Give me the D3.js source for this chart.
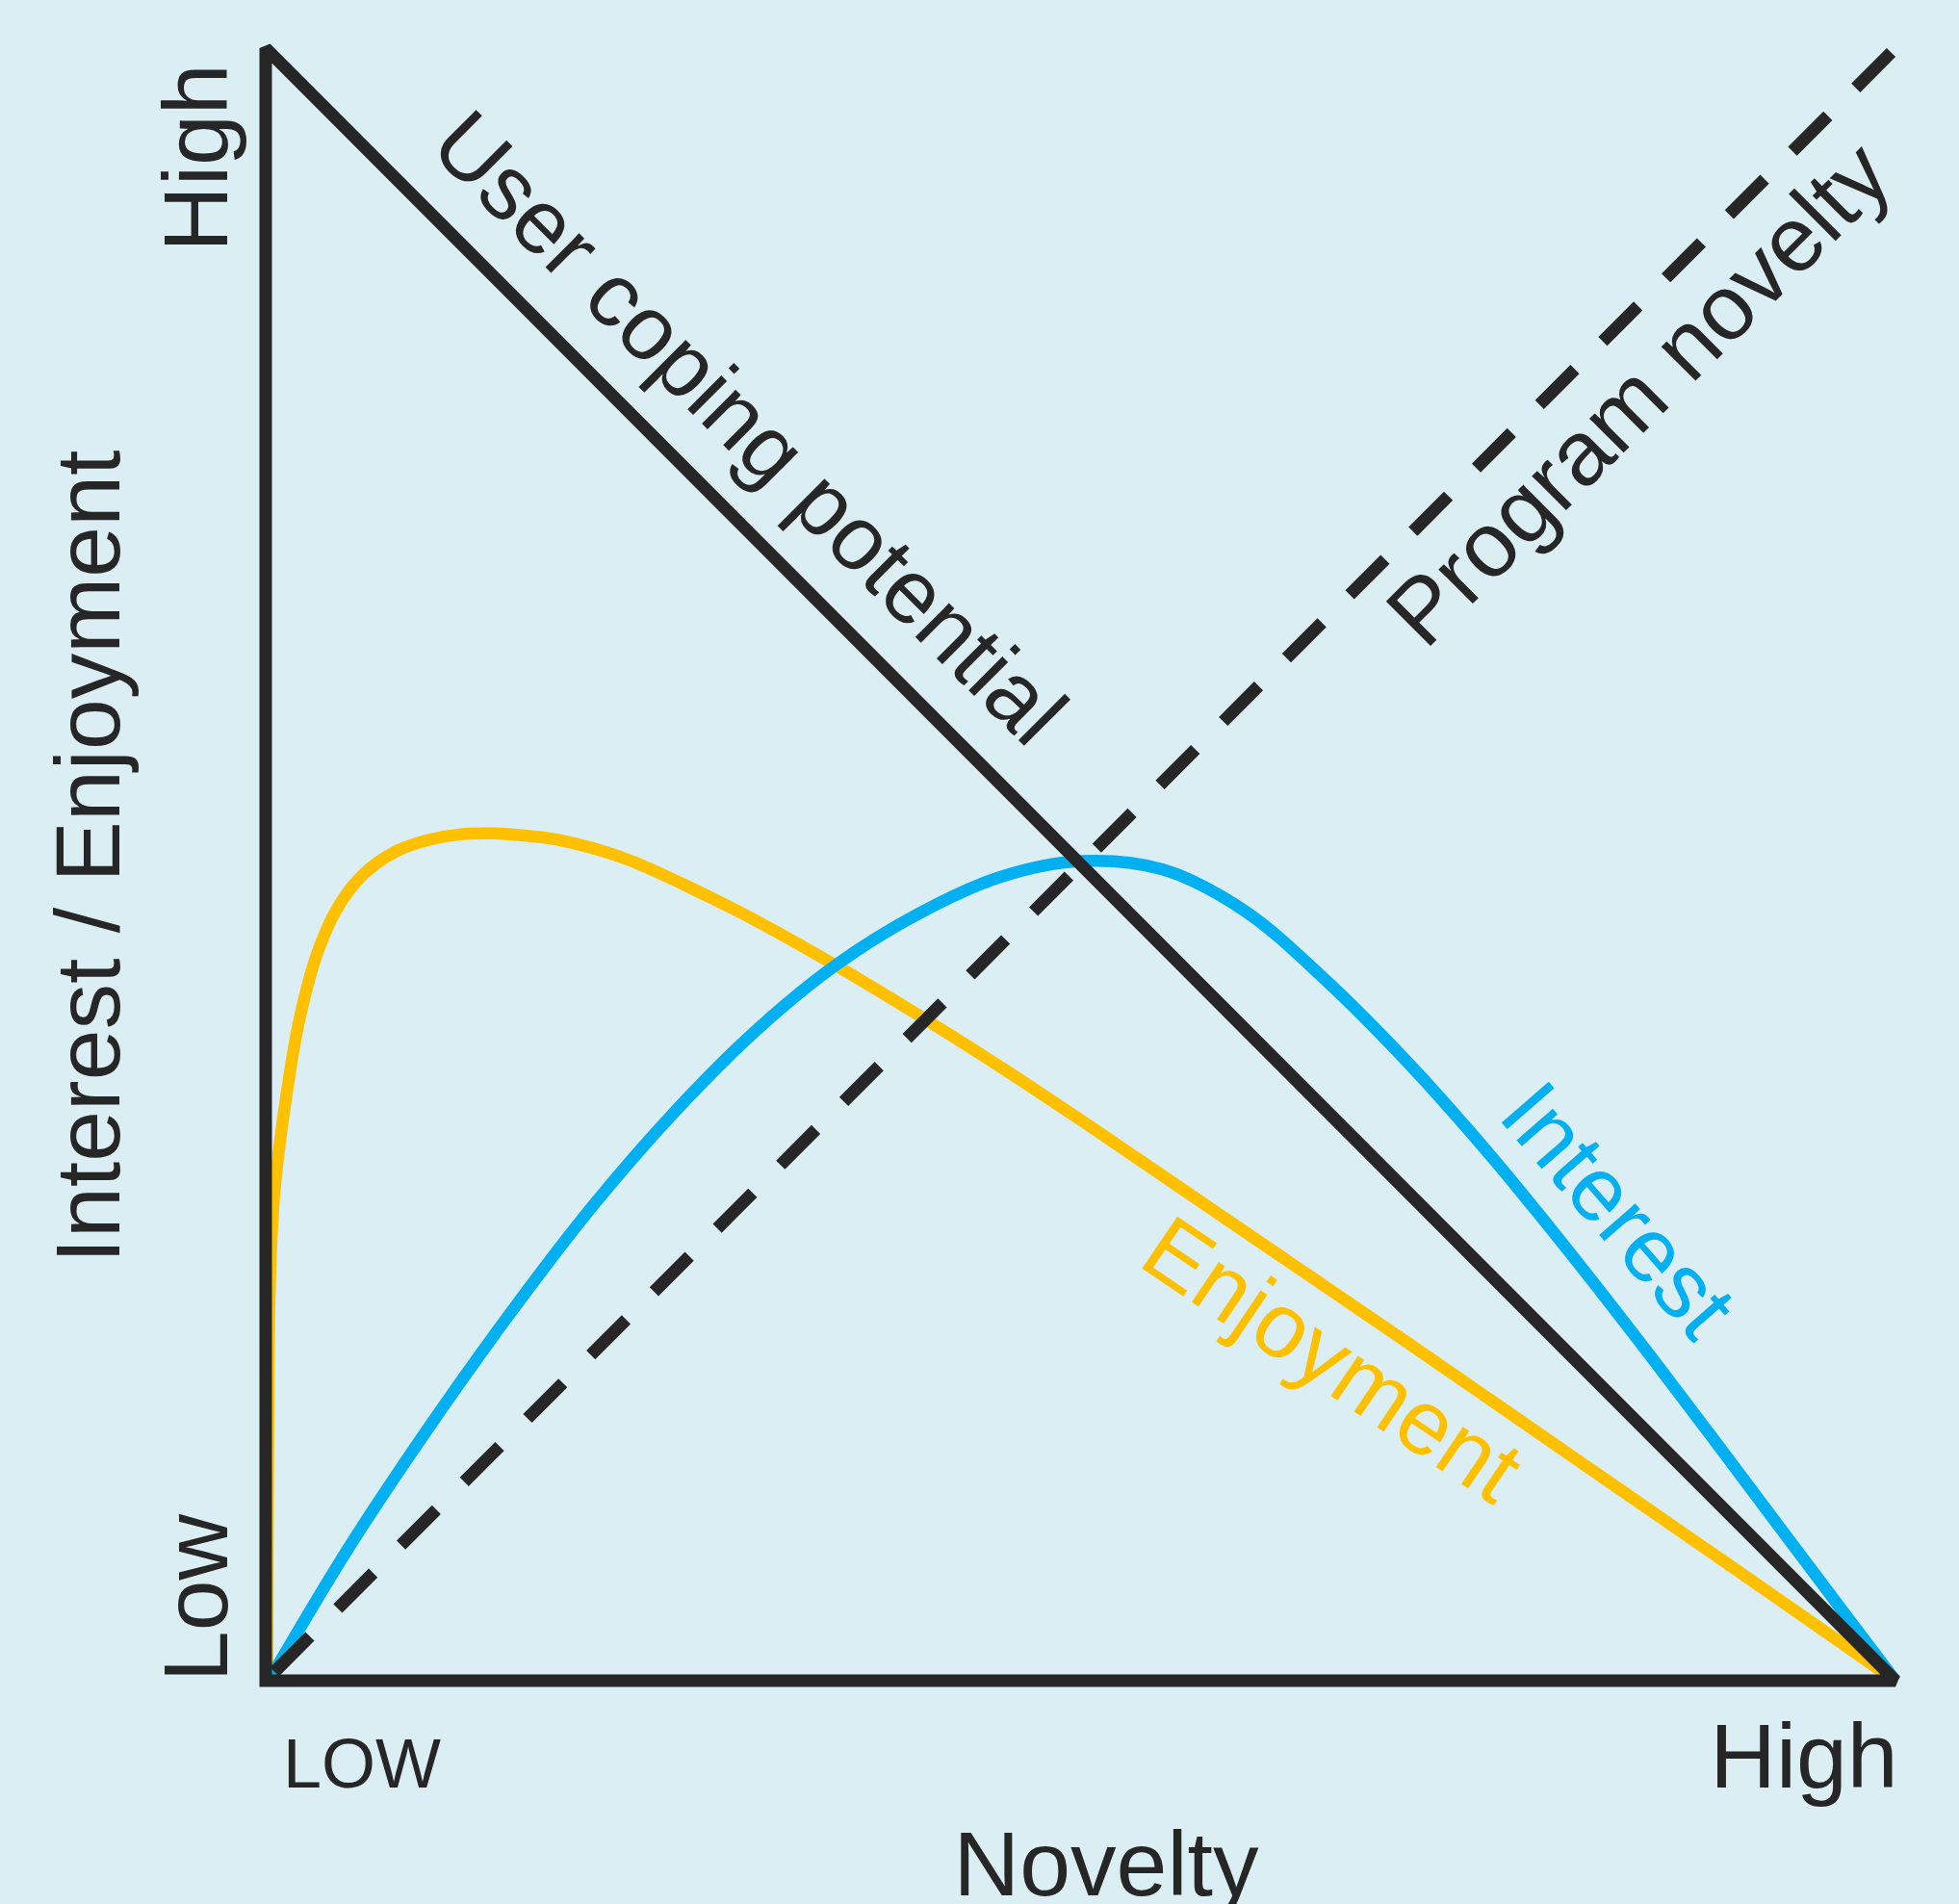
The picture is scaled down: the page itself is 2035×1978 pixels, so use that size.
<!DOCTYPE html>
<html>
<head>
<meta charset="utf-8">
<script src="https://cdn.jsdelivr.net/npm/d3@7"></script>
<style>
  body { margin: 0; background: #dbeef4; }
  svg { display: block; }
  text { font-family: "Liberation Sans", Arial, Helvetica, sans-serif; fill: #262626; }
</style>
</head>
<body>
<svg id="chart" width="2035" height="1978"></svg>
<script>
// ========== Data (novelty 0-100, level 0-100) ==========

const enjoyment = [
    [0.1, 0], [0.15, 14], [0.25, 24], [0.5, 29.5], [1.09, 34.6], [2.07, 40.5],
    [3.25, 44.8], [4.5, 47.5], [6, 49.4], [8, 50.8], [10, 51.5], [12, 51.85],
    [14, 51.9], [16, 51.75], [18, 51.5], [22, 50.38], [26, 48.6], [30, 46.6],
    [35, 43.8], [40, 40.8], [45, 37.65], [50, 34.35], [60, 27.55], [70, 20.75],
    [80, 13.85], [90, 6.95], [100, 0]
];

const interest = [
    [0.2, 0], [5, 8.0], [10, 15.5], [15, 22.5], [20, 29.0], [25, 34.75],
    [30, 39.75], [35, 43.85], [40, 46.95], [45, 49.2], [50, 50.2], [55, 49.7],
    [60, 47.2], [65, 42.95], [70, 37.95], [75, 32.35], [80, 26.25], [85, 19.85],
    [90, 13.25], [95, 6.6], [100, 0]
];

const copingPotential = [[0, 0], [0, 100], [100, 0]];   // frame + diagonal
const programNovelty = [[0, 0], [100, 100]];
const xTickLabels = ["LOW", "High"];
const yTickLabels = ["Low", "High"];

// ========== Setup ==========

const svg = d3.select("#chart");
const width = +svg.attr("width"),
    height = +svg.attr("height");

svg.append("rect")
    .attr("width", width)
    .attr("height", height)
    .attr("fill", "#dbeef4");

const x = d3.scaleLinear().domain([0, 100]).range([276, 1969]);
const y = d3.scaleLinear().domain([0, 100]).range([1746, 50]);

const straight = d3.line()
    .x(d => x(d[0]))
    .y(d => y(d[1]));

const smooth = d3.line()
    .x(d => x(d[0]))
    .y(d => y(d[1]))
    .curve(d3.curveCatmullRom.alpha(0.5));

// ========== Curves ==========

svg.append("path")
    .datum(enjoyment)
    .attr("fill", "none")
    .attr("stroke", "#ffc000")
    .attr("stroke-width", 12.5)
    .attr("d", smooth);

svg.append("path")
    .datum(interest)
    .attr("fill", "none")
    .attr("stroke", "#00b0f0")
    .attr("stroke-width", 12.5)
    .attr("d", smooth);

// ========== Black lines ==========

svg.append("path")
    .datum(programNovelty)
    .attr("fill", "none")
    .attr("stroke", "#262626")
    .attr("stroke-width", 13)
    .attr("stroke-dasharray", "52 41")
    .attr("stroke-dashoffset", 80)
    .attr("d", straight);

svg.append("path")
    .datum(copingPotential)
    .attr("fill", "none")
    .attr("stroke", "#262626")
    .attr("stroke-width", 13)
    .attr("stroke-linejoin", "miter")
    .attr("stroke-miterlimit", 2)
    .attr("d", d => straight(d) + "Z");

// ========== Text ==========

function label(txt, tx, ty, angle, size, color) {
    svg.append("text")
        .attr("transform", `translate(${tx},${ty}) rotate(${angle})`)
        .attr("text-anchor", "middle")
        .style("font-size", size + "px")
        .style("fill", color || "#262626")
        .text(txt);
}

// axis ends
label(yTickLabels[0], x(0) - 40, y(0) - 86, -90, 95);
label(yTickLabels[1], x(0) - 40, y(100) + 114, -90, 95);
label(xTickLabels[0], x(0) + 100, y(0) + 111, 0, 72);
label(xTickLabels[1], x(100) - 95, y(0) + 111, 0, 95);

// axis titles
label("Interest / Enjoyment", 124, 890, -90, 95);
label("Novelty", 1149, 1969, 0, 95);

// line labels
label("User coping potential", 756, 467, 45, 94);
label("Program novelty", 1725, 432, -45, 95);
label("Interest", 1657, 1278, 49, 94, "#00b0f0");
label("Enjoyment", 1366, 1439, 34, 95, "#ffc000");
</script>
</body>
</html>
